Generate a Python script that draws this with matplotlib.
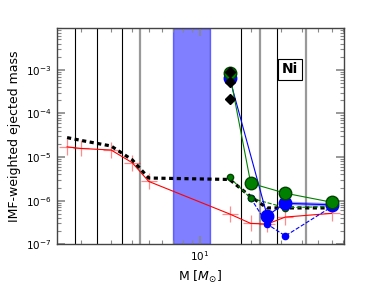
import matplotlib
matplotlib.use("Agg")
import matplotlib.pyplot as plt

# masses of the models
m_low = [1.65, 2.0, 3.0, 4.0, 5.0]
m_high = [15, 20, 25, 32, 60]

# red curve (low + high mass yields)
red_m = m_low + m_high
red_y = [1.71e-5, 1.57e-5, 1.45e-5, 7.4e-6, 2.76e-6,
         4.95e-7, 3.0e-7, 2.9e-7, 4.2e-7, 5.1e-7]

# black dashed curve
blk_m = m_low + m_high
blk_y = [2.79e-5, 2.4e-5, 1.79e-5, 8.6e-6, 3.3e-6,
         3.06e-6, 1.23e-6, 6.8e-7, 6.8e-7, 6.8e-7]

# big markers
green_big_m = [15, 20, 32, 60]
green_big = [8.5e-4, 2.5e-6, 1.48e-6, 9.2e-7]
blue_big_m = [15, 25, 32, 60]
blue_big = [6.5e-4, 4.5e-7, 8.7e-7, 8.0e-7]
# small markers
green_small_m = [15, 20, 32, 60]
green_small = [3.4e-6, 1.14e-6, 6.9e-7, 7.3e-7]
blue_small_m = [20, 25, 32, 60]
blue_small = [1.14e-6, 2.9e-7, 1.55e-7, 7.2e-7]

# diamonds at 15 Msun
dia_m = [15, 15, 15]
dia_y = [8.9e-4, 5.3e-4, 2.1e-4]

# vertical lines
dark_lines = [1.83, 2.49, 3.50, 17.45, 28.6]
gray_lines = [4.47, 22.6, 42.1]
span = (6.96, 11.45)

fig = plt.figure(figsize=(3.82, 2.88), dpi=100)
ax = fig.add_axes([0.148, 0.152, 0.7525, 0.75])
ax.set_xscale('log')
ax.set_yscale('log')

for x in dark_lines:
    ax.axvline(x, color='k', lw=0.8, zorder=1)
for x in gray_lines:
    ax.axvline(x, color='#999999', lw=1.6, zorder=1)
ax.axvspan(span[0], span[1], color='blue', alpha=0.5, lw=1, zorder=1)

# red
ax.plot(red_m, red_y, color='red', lw=0.8, zorder=2)
ax.plot(red_m, red_y, ls='none', marker='+', ms=11, mew=0.9,
        color='red', alpha=0.45, zorder=2)

# black dashed
ax.plot(blk_m, blk_y, color='k', lw=2.3, ls=(0, (1.3, 1.1)), zorder=3)

# small markers
ax.plot(blue_small_m, blue_small, color='blue', lw=0.8, ls='--', marker='o',
        ms=4.5, mfc='blue', mec='blue', zorder=4)
ax.plot(green_small_m, green_small, color='green', lw=0.8, ls='--',
        marker='o', ms=4.5, mfc='green', mec='#004400', zorder=4)

# big markers
ax.plot(blue_big_m, blue_big, color='blue', lw=0.8, marker='o',
        ms=9, mfc='blue', mec='blue', zorder=5)
ax.plot(blue_big_m[2:], blue_big[2:], color='blue', lw=2.5, alpha=0.4,
        zorder=5)
ax.plot(green_big_m, green_big, color='green', lw=0.8, marker='o',
        ms=9, mfc='green', mec='#004400', zorder=6)

ax.plot(dia_m, dia_y, ls='none', marker='D', ms=5, color='k', zorder=7)

ax.set_xlim(1.43, 71)
ax.set_ylim(1e-7, 9e-3)

ax.tick_params(which='both', direction='in', top=True, right=True,
               colors='#888888', labelcolor='k', labelsize=7.5)
ax.tick_params(which='major', length=6, width=1.2)
ax.tick_params(which='minor', length=3, width=0.8)
for s in ax.spines.values():
    s.set_color('#444444')
    s.set_linewidth(1.0)

ax.set_xlabel(r'M [$M_{\odot}$]', fontsize=9)
ax.set_ylabel('IMF-weighted ejected mass', fontsize=9)

ax.text(0.812, 0.81, 'Ni', transform=ax.transAxes, fontsize=10,
        fontweight='bold', ha='center', va='center',
        bbox=dict(boxstyle='square,pad=0.25', fc='white', ec='k', lw=0.8))

fig.savefig('out.png', dpi=100)
